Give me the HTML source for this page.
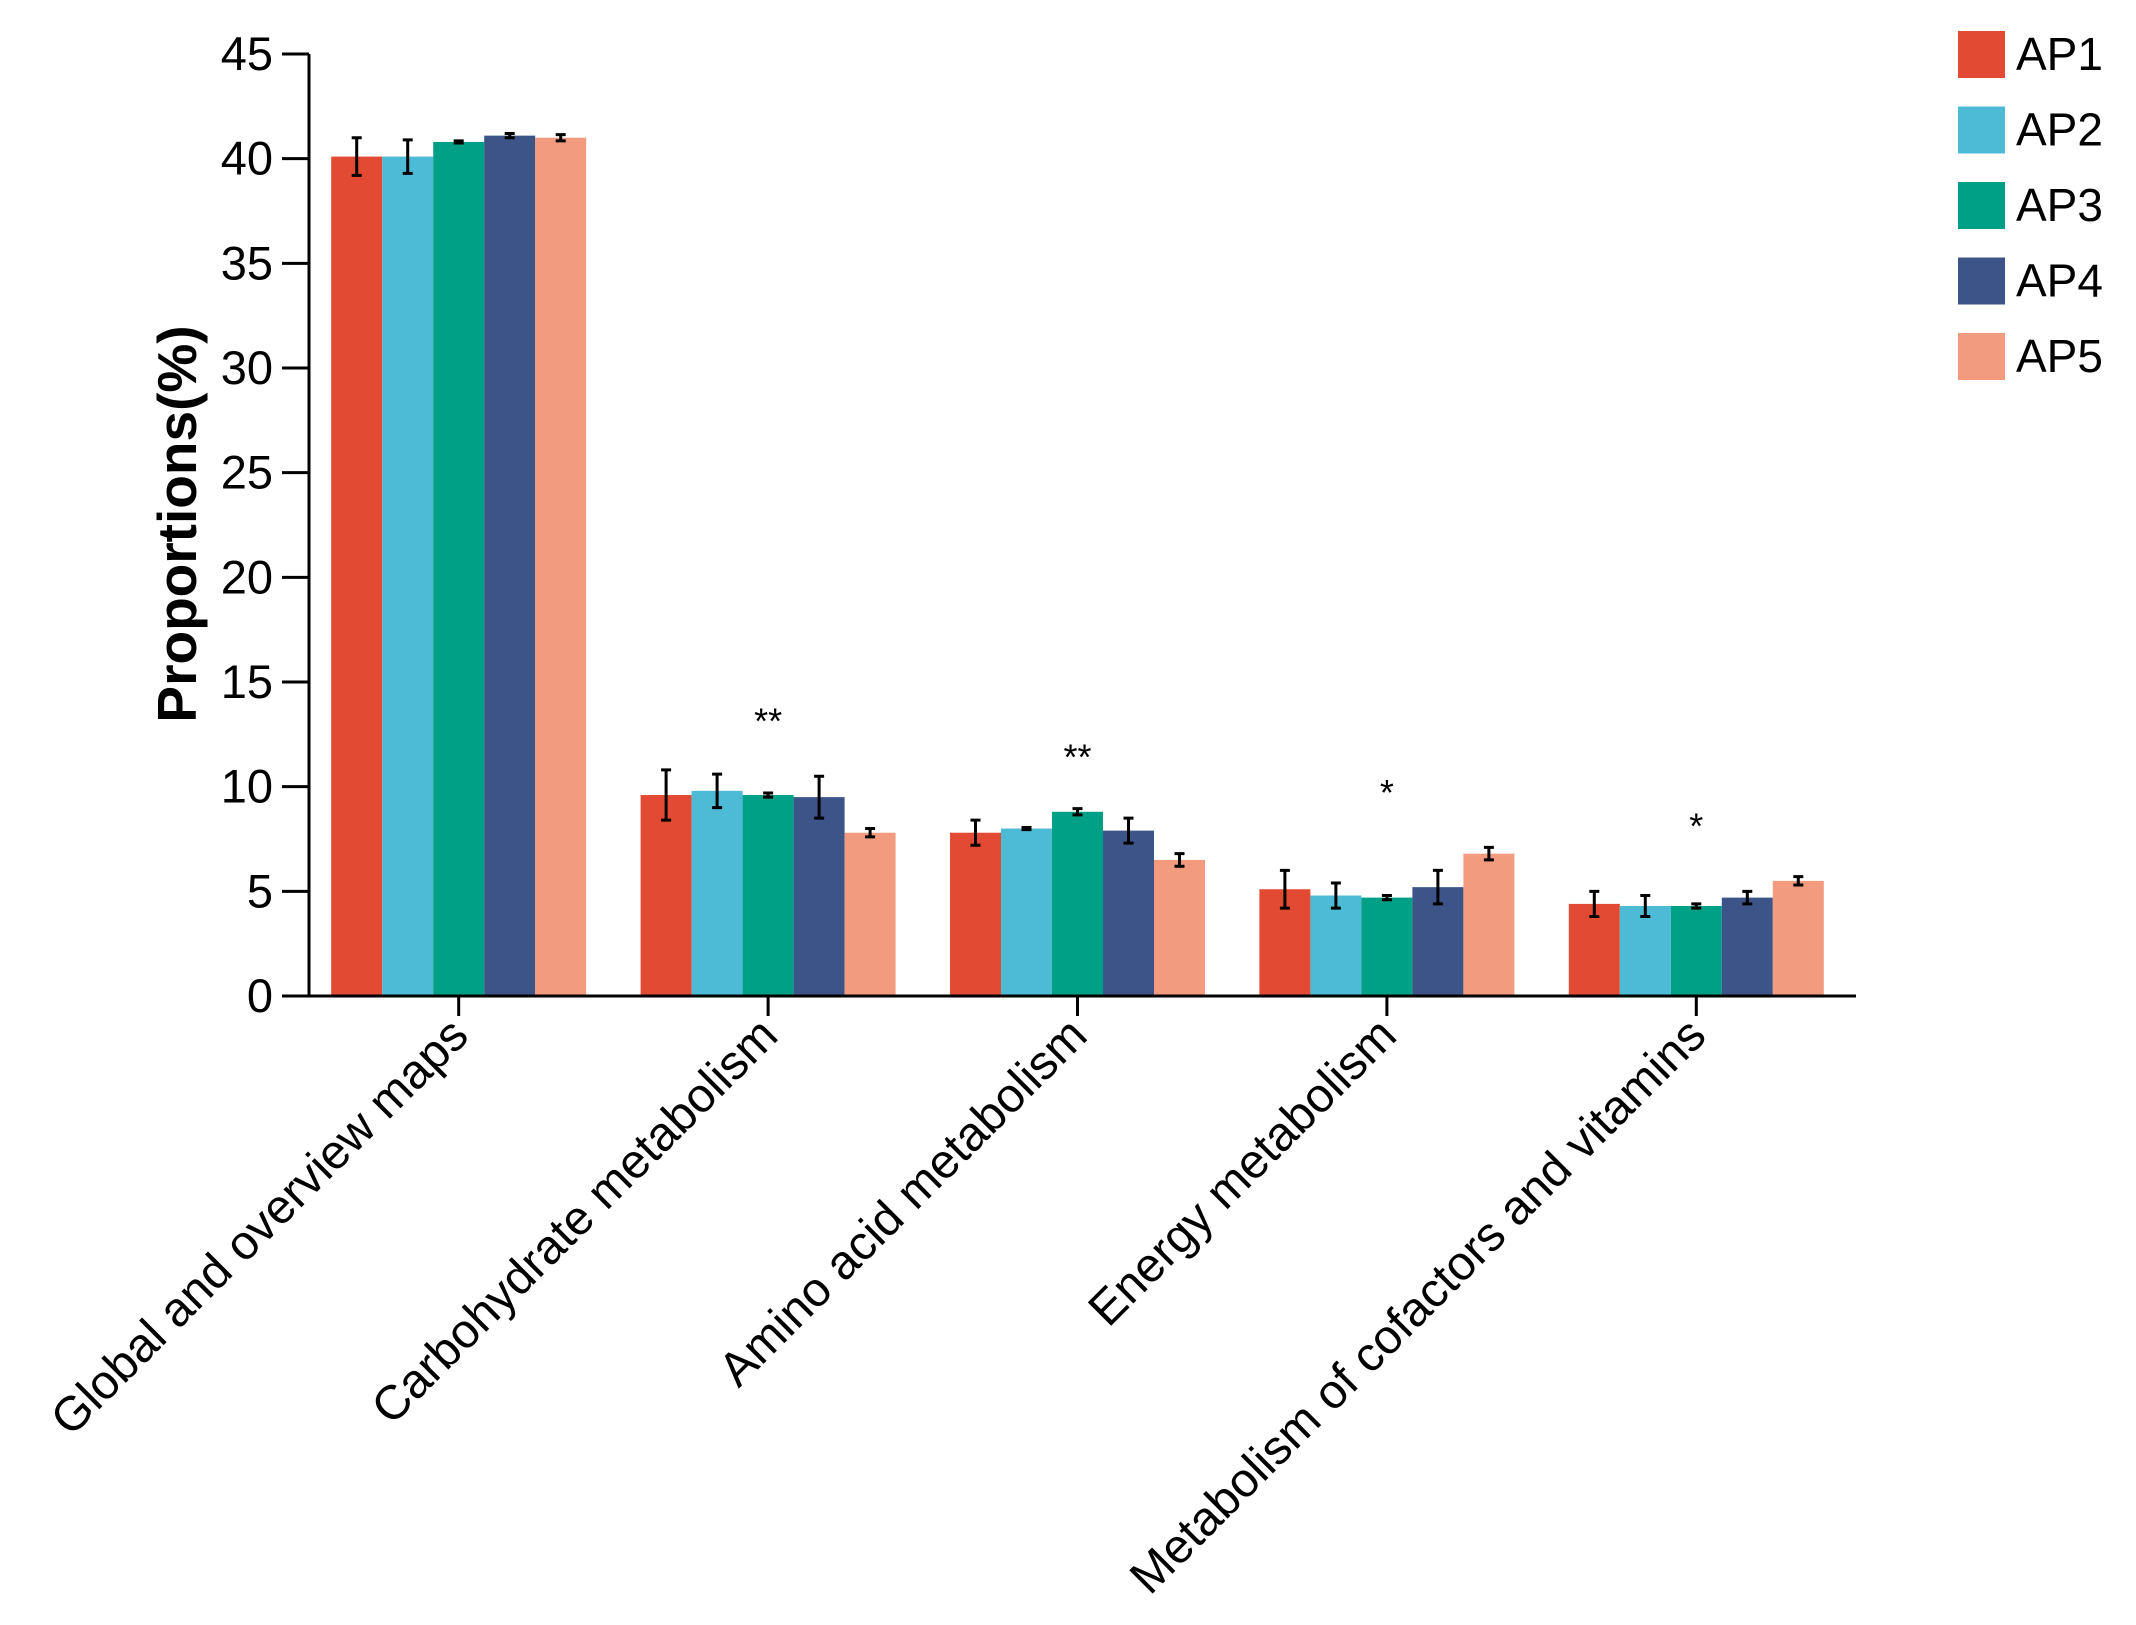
<!DOCTYPE html>
<html><head><meta charset="utf-8"><style>
html,body{margin:0;padding:0;background:#fff;}
svg{display:block;font-family:"Liberation Sans",Arial,sans-serif;}
</style></head><body>
<svg id="chart" width="2136" height="1625" viewBox="0 0 2136 1625"></svg>
<script>
const categories=["Global and overview maps","Carbohydrate metabolism","Amino acid metabolism","Energy metabolism","Metabolism of cofactors and vitamins"];
const seriesNames=["AP1","AP2","AP3","AP4","AP5"];
const AP1=[40.1,9.6,7.8,5.1,4.4];
const AP2=[40.1,9.8,8.0,4.8,4.3];
const AP3=[40.8,9.6,8.8,4.7,4.3];
const AP4=[41.1,9.5,7.9,5.2,4.7];
const AP5=[41.0,7.8,6.5,6.8,5.5];
const AP1err=[0.9,1.2,0.6,0.9,0.6];
const AP2err=[0.8,0.8,0.05,0.6,0.5];
const AP3err=[0.05,0.1,0.15,0.1,0.1];
const AP4err=[0.1,1.0,0.6,0.8,0.3];
const AP5err=[0.15,0.2,0.3,0.3,0.2];
const sigLabels=["","**","**","*","*"];
const sigValues=[0,13.2,11.5,9.8,8.2];
const yTicks=[0,5,10,15,20,25,30,35,40,45];

const series=[AP1,AP2,AP3,AP4,AP5];
const errs=[AP1err,AP2err,AP3err,AP4err,AP5err];
const colors=["#E34A33","#4DBBD5","#00A087","#3C5488","#F39B7F"];
const NS="http://www.w3.org/2000/svg";
const svg=document.getElementById('chart');
const X0=309,X1=1856,Y0=996,Y45=54;
const y=v=>Y0-(v/45)*(Y0-Y45);
const groupW=(X1-X0)/categories.length;
const xc=i=>X0+groupW*(i+0.5)-5;
const barW=51;
function mk(tag,attrs,parent){const e=document.createElementNS(NS,tag);for(const k in attrs)e.setAttribute(k,attrs[k]);(parent||svg).appendChild(e);return e;}

series.forEach((s,si)=>{
  const g=mk('g',{});
  
  
  s.forEach((v,ci)=>{
    const bx=xc(ci)-2.5*barW+si*barW;
    const r=mk('rect',{x:bx,y:y(v),width:barW,height:Y0-y(v),fill:colors[si]},g);
    
    
    const cx=bx+barW/2,e=errs[si][ci];
    const eb=mk('path',{d:`M${cx},${y(v+e)}V${y(v-e)}M${cx-5},${y(v+e)}H${cx+5}M${cx-5},${y(v-e)}H${cx+5}`,stroke:'#000','stroke-width':3,fill:'none'},g);
    
    
  });
});
sigLabels.forEach((t,i)=>{if(!t)return;
  const e=mk('text',{x:xc(i),y:y(sigValues[i])+14,'text-anchor':'middle','font-size':36,fill:'#000'});
  e.textContent=t;
  
  
});
const ax=mk('path',{d:`M${X0},${Y45}V${Y0}H${X1}`,stroke:'#000','stroke-width':3,fill:'none'});


yTicks.forEach(t=>{
  const l=mk('line',{x1:X0-27,x2:X0,y1:y(t),y2:y(t),stroke:'#000','stroke-width':3});
  
  
  const tx=mk('text',{x:X0-36,y:y(t)+16,'text-anchor':'end','font-size':47,fill:'#000'});
  tx.textContent=t;
  
  
});
categories.forEach((c,i)=>{
  const l=mk('line',{x1:xc(i),x2:xc(i),y1:Y0,y2:Y0+20,stroke:'#000','stroke-width':3});
  
  
  const tx=mk('text',{x:xc(i)+12,y:Y0+42,'text-anchor':'end','font-size':48,fill:'#000',transform:`rotate(-45 ${xc(i)+12} ${Y0+42})`});
  tx.textContent=c;
  
  
});
const yt=mk('text',{x:0,y:0,'text-anchor':'middle','font-size':55,'font-weight':'bold',fill:'#000',transform:'translate(196,524) rotate(-90)'});
yt.textContent='Proportions(%)';


seriesNames.forEach((n,i)=>{
  const g=mk('g',{});
  
  
  mk('rect',{x:1958,y:31+i*75.5,width:47,height:47,fill:colors[i]},g);
  const t=mk('text',{x:2016,y:70+i*75.5,'font-size':46,fill:'#000'},g);
  t.textContent=n;
});
</script>
</body></html>
